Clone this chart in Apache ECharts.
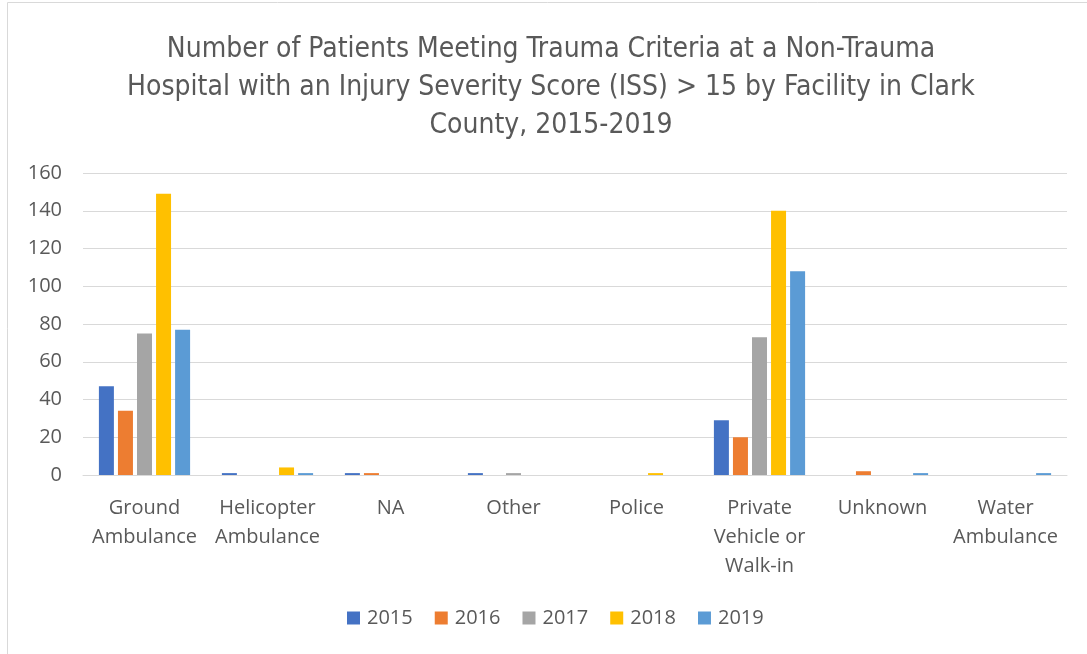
<!DOCTYPE html>
<html>
<head>
<meta charset="utf-8">
<script src="https://cdn.jsdelivr.net/npm/echarts@6/dist/echarts.min.js"></script>
<style>
  html, body { margin: 0; padding: 0; background: #fff; }
  #chart { width: 1087px; height: 654px; }
</style>
</head>
<body>
<div id="chart"></div>
<script>
const categories = ['Ground\nAmbulance', 'Helicopter\nAmbulance', 'NA', 'Other', 'Police', 'Private\nVehicle or\nWalk-in', 'Unknown', 'Water\nAmbulance']
const years = ['2015', '2016', '2017', '2018', '2019']
const v2015 = [47, 1, 1, 1, 0, 29, 0, 0]
const v2016 = [34, 0, 1, 0, 0, 20, 2, 0]
const v2017 = [75, 0, 0, 1, 0, 73, 0, 0]
const v2018 = [149, 4, 0, 0, 1, 140, 0, 0]
const v2019 = [77, 1, 0, 0, 0, 108, 1, 1]
const colors = ['#4472C4', '#ED7D31', '#A5A5A5', '#FFC000', '#5B9BD5']

const textColor = '#595959'
const gridLineColor = '#D9D9D9'
const labelFont = '"Open Sans", "Liberation Sans", sans-serif'

let chart = echarts.init(document.getElementById('chart'))

const seriesValues = [v2015, v2016, v2017, v2018, v2019]
const series = years.map((y, i) => ({
  name: y,
  type: 'bar',
  data: seriesValues[i],
  barWidth: 15,
  barGap: '27%',
  itemStyle: { color: colors[i] }
}))

chart.setOption({
  animation: false,
  color: colors,
  title: {
    text: 'Number of Patients Meeting Trauma Criteria at a Non-Trauma\nHospital with an Injury Severity Score (ISS) > 15 by Facility in Clark\nCounty, 2015-2019',
    left: 546,
    textAlign: 'center',
    top: 26,
    textStyle: {
      fontFamily: '"DejaVu Sans Condensed", "Liberation Sans Narrow", sans-serif',
      fontWeight: 'normal',
      fontSize: 28,
      lineHeight: 38,
      color: textColor
    }
  },
  graphic: [{
    type: 'rect',
    shape: { x: 7.5, y: 2.5, width: 1200, height: 800 },
    style: { fill: 'none', stroke: gridLineColor, lineWidth: 1 },
    silent: true
  }],
  legend: {
    data: years,
    bottom: 21,
    left: 342,
    itemWidth: 13,
    itemHeight: 13,
    itemGap: 22,
    icon: 'rect',
    textStyle: { fontFamily: labelFont, fontSize: 20, color: textColor, padding: [0, 0, 0, 2] }
  },
  grid: { left: 83, right: 20, top: 173, bottom: 179 },
  xAxis: {
    type: 'category',
    data: categories,
    axisLine: { lineStyle: { color: gridLineColor, width: 1 } },
    axisTick: { show: false },
    axisLabel: {
      interval: 0,
      margin: 19,
      fontFamily: labelFont,
      fontSize: 20,
      lineHeight: 29,
      color: textColor
    }
  },
  yAxis: {
    type: 'value',
    min: 0,
    max: 160,
    interval: 20,
    axisLine: { show: false },
    axisTick: { show: false },
    axisLabel: { margin: 21, fontFamily: labelFont, fontSize: 20, color: textColor },
    splitLine: { lineStyle: { color: gridLineColor, width: 1 } }
  },
  series: series
})
</script>
</body>
</html>
